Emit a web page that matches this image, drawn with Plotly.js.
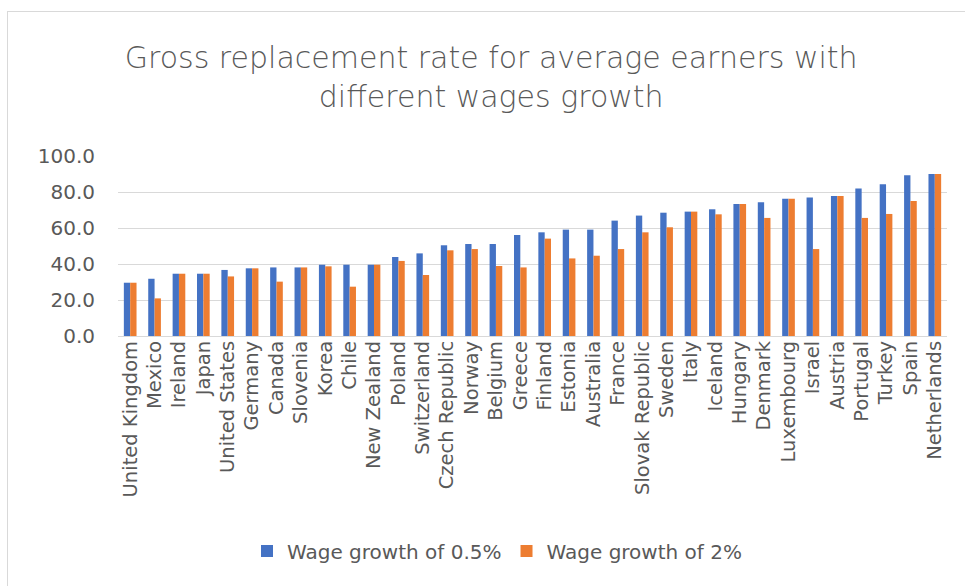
<!DOCTYPE html>
<html>
<head>
<meta charset="utf-8">
<script src="https://cdn.plot.ly/plotly-3.0.1.min.js"></script>
<style>
  html, body { margin: 0; padding: 0; background: #fff; }
  #wrap { position: relative; width: 965px; height: 586px; }
  #chart { width: 965px; height: 586px; }
  #frame { position: absolute; left: 7px; top: 11px; right: 0; bottom: 0;
           border-left: 1px solid #d9d9d9; border-top: 1px solid #d9d9d9; pointer-events: none; }
</style>
</head>
<body>
<div id="wrap"><div id="chart"></div><div id="frame"></div></div>
<script>
const countries = ["United Kingdom","Mexico","Ireland","Japan","United States","Germany","Canada","Slovenia","Korea","Chile","New Zealand","Poland","Switzerland","Czech Republic","Norway","Belgium","Greece","Finland","Estonia","Australia","France","Slovak Republic","Sweden","Italy","Iceland","Hungary","Denmark","Luxembourg","Israel","Austria","Portugal","Turkey","Spain","Netherlands"];
const growth05 = [29.6,31.8,34.6,34.6,36.7,37.6,38.1,38.1,39.6,39.6,39.6,43.9,45.9,50.4,51.1,51.1,56.1,57.6,59.1,59.1,64.1,66.9,68.5,69.1,70.4,73.3,74.3,76.3,77.0,77.8,82.0,84.3,89.3,90.0];
const growth2 = [29.6,20.9,34.6,34.6,33.1,37.6,30.2,38.1,38.7,27.4,39.6,41.7,33.9,47.6,48.3,38.9,38.1,54.1,43.1,44.6,48.3,57.6,60.4,69.1,67.6,73.3,65.6,76.3,48.3,77.8,65.6,67.8,75.0,90.0];
const seriesNames = ["Wage growth of 0.5%","Wage growth of 2%"];
const yTicks = [0,20,40,60,80,100];
const yTickText = ["0.0","20.0","40.0","60.0","80.0","100.0"];
const titleText = "Gross replacement rate for average earners with<br>different wages growth";

const font = "'DejaVu Sans', sans-serif";
const traces = [
  {type:"bar", x:countries, y:growth05, name:seriesNames[0], marker:{color:"#4472C4"}},
  {type:"bar", x:countries, y:growth2, name:seriesNames[1], marker:{color:"#ED7D31"}}
];
const layout = {
  width:965, height:586,
  margin:{l:118, r:18, t:156, b:250},
  paper_bgcolor:"#fff", plot_bgcolor:"#fff",
  font:{family:font, color:"#595959"},
  title:{text:titleText, font:{family:font, size:30, color:"#595959", weight:300, lineposition:"none"},
         x:0.509, xref:"container", xanchor:"center", y:1-68/586, yref:"container", yanchor:"top"},
  barmode:"group", bargap:0.48, bargroupgap:0,
  xaxis:{type:"category", tickangle:-90, tickfont:{size:19.5, color:"#595959"}, showgrid:false,
         showline:false, ticks:"", automargin:false},
  yaxis:{range:[0,100], tickvals:yTicks, ticktext:yTickText, tickfont:{size:20, color:"#595959"},
         showgrid:true, gridcolor:"#d9d9d9", gridwidth:1, zeroline:true, zerolinecolor:"#d9d9d9", zerolinewidth:1,
         ticks:"", ticklabelstandoff:22, automargin:false, fixedrange:true},
  legend:{orientation:"h", x:(497-118)/829, xanchor:"center", y:1-551/586, yref:"container", yanchor:"middle",
          font:{size:20, color:"#595959"}, traceorder:"normal", itemwidth:30},
  showlegend:true
};
Plotly.newPlot("chart", traces, layout, {displayModeBar:false, staticPlot:true});
</script>
</body>
</html>
